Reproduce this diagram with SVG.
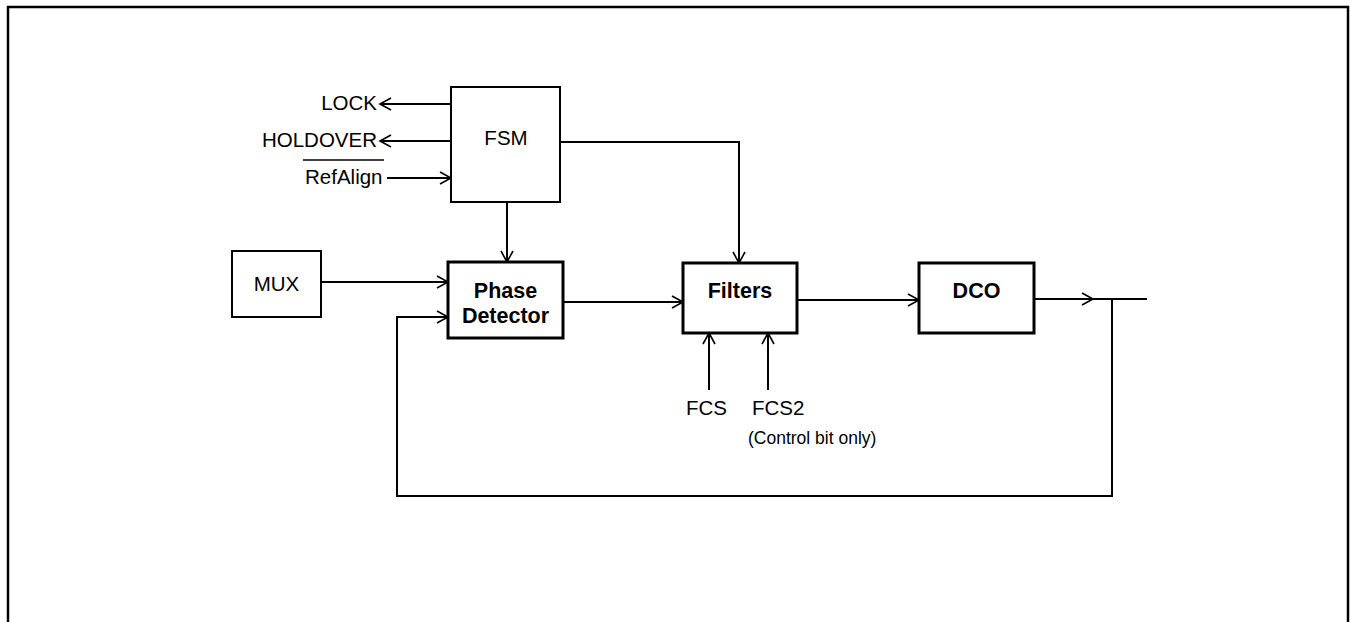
<svg xmlns="http://www.w3.org/2000/svg" width="1350" height="622" viewBox="0 0 1350 622">
<defs>
<style>
.t{font-family:"Liberation Sans",Arial,sans-serif;font-size:20.5px;fill:#000}
.b{font-family:"Liberation Sans",Arial,sans-serif;font-size:21.5px;font-weight:bold;fill:#000}
.s{font-family:"Liberation Sans",Arial,sans-serif;font-size:17.5px;fill:#000}
.box{fill:#fff;stroke:#000;stroke-width:2}
.bbox{fill:#fff;stroke:#000;stroke-width:3}
.c{fill:none;stroke:#000;stroke-width:2}
</style>
<marker id="ah" markerUnits="userSpaceOnUse" markerWidth="16" markerHeight="16" viewBox="-13 -8 16 16" refX="0" refY="0" orient="auto">
<path d="M-11,-6 L0,0 L-11,6" fill="none" stroke="#000" stroke-width="1.6"/>
</marker>
</defs>
<rect width="1350" height="622" fill="#fff"/>
<g id="frame">
<path d="M8,622 V7 H1348 V622" fill="none" stroke="#000" stroke-width="2.5"/>
</g>
<g id="connectors">
<line class="c" x1="451" y1="104" x2="380" y2="104" marker-end="url(#ah)"/>
<line class="c" x1="451" y1="141" x2="380" y2="141" marker-end="url(#ah)"/>
<line class="c" x1="387" y1="178" x2="451" y2="178" marker-end="url(#ah)"/>
<line class="c" x1="507" y1="202" x2="507" y2="262" marker-end="url(#ah)"/>
<polyline class="c" points="560,142 739,142 739,263" marker-end="url(#ah)"/>
<line class="c" x1="321" y1="282" x2="448" y2="282" marker-end="url(#ah)"/>
<line class="c" x1="563" y1="302" x2="683" y2="302" marker-end="url(#ah)"/>
<line class="c" x1="797" y1="300" x2="919" y2="300" marker-end="url(#ah)"/>
<line class="c" x1="1034" y1="299" x2="1093" y2="299" marker-end="url(#ah)"/>
<line class="c" x1="1090" y1="299" x2="1147" y2="299"/>
<polyline class="c" points="1112,299 1112,496 397,496 397,317 448,317" marker-end="url(#ah)"/>
<line class="c" x1="709" y1="390" x2="709" y2="333" marker-end="url(#ah)"/>
<line class="c" x1="768" y1="390" x2="768" y2="333" marker-end="url(#ah)"/>
</g>
<g id="labels">
<text class="t" x="377" y="110" text-anchor="end">LOCK</text>
<text class="t" x="377" y="147" text-anchor="end">HOLDOVER</text>
<text class="t" x="305" y="184">RefAlign</text>
<line x1="303" y1="160" x2="384" y2="160" stroke="#000" stroke-width="1.5"/>
<text class="t" x="686" y="415">FCS</text>
<text class="t" x="752" y="415">FCS2</text>
<text class="s" x="748" y="444">(Control bit only)</text>
</g>
<g id="fsm">
<rect class="box" x="451" y="87" width="109" height="115"/>
<text class="t" x="506" y="145" text-anchor="middle">FSM</text>
</g>
<g id="mux">
<rect class="box" x="232" y="251" width="89" height="66"/>
<text class="t" x="276.5" y="291" text-anchor="middle">MUX</text>
</g>
<g id="phase-detector">
<rect class="bbox" x="448" y="262" width="115" height="76"/>
<text class="b" x="505.5" y="298" text-anchor="middle">Phase</text>
<text class="b" x="505.5" y="323" text-anchor="middle">Detector</text>
</g>
<g id="filters">
<rect class="bbox" x="683" y="263" width="114" height="70"/>
<text class="b" x="740" y="298" text-anchor="middle">Filters</text>
</g>
<g id="dco">
<rect class="bbox" x="919" y="263" width="115" height="70"/>
<text class="b" x="976.5" y="298" text-anchor="middle">DCO</text>
</g>
</svg>
